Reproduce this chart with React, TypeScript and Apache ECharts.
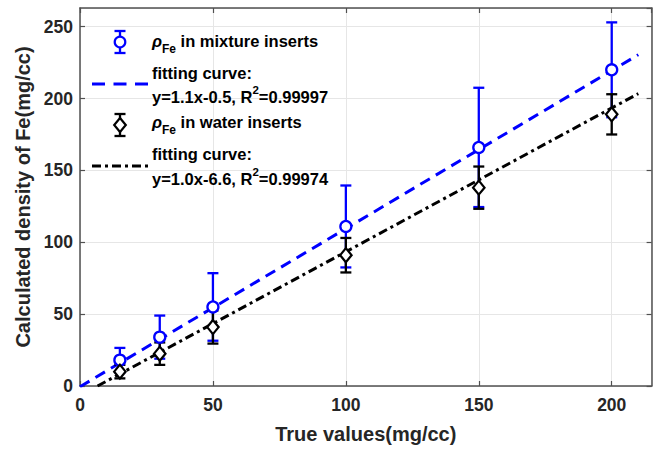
import React, { useEffect, useRef } from 'react';
import * as echarts from 'echarts';

// ---- data ----
const trueValues = [15, 30, 50, 100, 150, 200];
const mixtureDensity = [18, 34, 55, 111, 166, 220];
const mixtureError = [8.5, 15, 23.5, 28.5, 41.5, 33];
const waterDensity = [10, 22.5, 41, 91, 138, 189];
const waterError = [4.7, 7.8, 11.5, 12, 14.7, 14];
const mixtureFitLine = [[0, -0.5], [210, 230.5]];
const waterFitLine = [[6.6, 0], [210, 203.4]];
const xTicks = [0, 50, 100, 150, 200];
const yTicks = [0, 50, 100, 150, 200, 250];

const mixtureLabel = ' in mixture inserts';
const waterLabel = ' in water inserts';
const fitLabel = 'fitting curve:';
const mixtureFitEq = ['y=1.1x-0.5, R', '2', '=0.99997'];
const waterFitEq = ['y=1.0x-6.6, R', '2', '=0.99974'];

const FONT = 'Liberation Sans, Arial, Helvetica, sans-serif';
const BLUE = '#0000ff';
const BLACK = '#000000';
const AXIS = '#505050';
const TXT = '#262626';

function errorBarSeries(values: number[], errors: number[], color: string) {
  return {
    type: 'custom',
    data: trueValues.map((x, i) => [x, values[i], errors[i]]),
    encode: { x: 0, y: 1 },
    clip: false,
    renderItem: (params: any, api: any) => {
      const x = api.value(0);
      const y = api.value(1);
      const e = api.value(2);
      const top = api.coord([x, y + e]);
      const bot = api.coord([x, y - e]);
      const hw = 5.5;
      const style = { stroke: color, lineWidth: 2.3 };
      return {
        type: 'group',
        children: [
          { type: 'line', shape: { x1: top[0], y1: top[1], x2: bot[0], y2: bot[1] }, style },
          { type: 'line', shape: { x1: top[0] - hw, y1: top[1], x2: top[0] + hw, y2: top[1] }, style },
          { type: 'line', shape: { x1: bot[0] - hw, y1: bot[1], x2: bot[0] + hw, y2: bot[1] }, style },
        ],
      };
    },
    z: 3,
  };
}

const richBase = {
  rho: { fontStyle: 'italic', fontWeight: 'bold', fontSize: 16.5, fontFamily: FONT, fill: BLACK },
  sub: { fontWeight: 'bold', fontSize: 12, fontFamily: FONT, fill: BLACK, padding: [15, 0, 0, 0] },
  sup: { fontWeight: 'bold', fontSize: 11.5, fontFamily: FONT, fill: BLACK, padding: [0, 0, 14, 0] },
};

function legendText(text: string, y: number) {
  return {
    type: 'text',
    x: 152,
    y,
    style: {
      text,
      rich: richBase,
      fontSize: 16.5,
      fontWeight: 'bold',
      fontFamily: FONT,
      fill: BLACK,
      verticalAlign: 'middle',
      align: 'left',
    },
    z: 10,
  };
}

function errorIcon(cx: number, cy: number, color: string, marker: 'circle' | 'diamond') {
  const style = { stroke: color, lineWidth: 2.3 };
  const children: any[] = [
    { type: 'line', shape: { x1: cx, y1: cy - 11, x2: cx, y2: cy + 11 }, style },
    { type: 'line', shape: { x1: cx - 5.5, y1: cy - 11, x2: cx + 5.5, y2: cy - 11 }, style },
    { type: 'line', shape: { x1: cx - 5.5, y1: cy + 11, x2: cx + 5.5, y2: cy + 11 }, style },
  ];
  if (marker === 'circle') {
    children.push({ type: 'circle', shape: { cx, cy, r: 5.3 }, style: { fill: '#fff', stroke: color, lineWidth: 2.2 } });
  } else {
    children.push({
      type: 'polygon',
      shape: { points: [[cx, cy - 7], [cx + 5.8, cy], [cx, cy + 7], [cx - 5.8, cy]] },
      style: { fill: '#fff', stroke: color, lineWidth: 2.2 },
    });
  }
  return { type: 'group', children, z: 10 };
}

export default function App() {
  const ref = useRef<HTMLDivElement>(null);

  useEffect(() => {
    document.body.style.margin = '0';
    if (!ref.current) return;
    const chart = echarts.init(ref.current, undefined, { renderer: 'svg' });

    const axisLabelCommon = {
      fontSize: 17.5,
      fontWeight: 'bold',
      fontFamily: FONT,
      color: TXT,
    };

    const option: any = {
      animation: false,
      backgroundColor: '#ffffff',
      grid: { left: 80, right: 3.4, top: 8, bottom: 63, containLabel: false },
      xAxis: [
        {
          type: 'value',
          min: 0,
          max: 215,
          interval: 50,
          position: 'bottom',
          name: 'True values(mg/cc)',
          nameLocation: 'middle',
          nameGap: 38,
          nameTextStyle: { fontSize: 20, fontWeight: 'bold', fontFamily: FONT, color: TXT },
          axisLine: { show: true, onZero: false, lineStyle: { color: AXIS, width: 1.5 } },
          axisTick: { show: true, inside: true, length: 5, lineStyle: { color: AXIS, width: 1.2 } },
          axisLabel: {
            ...axisLabelCommon,
            margin: 10,
            showMaxLabel: false,
            formatter: (v: number) => (xTicks.includes(v) ? String(v) : ''),
          },
          splitLine: { show: true, lineStyle: { color: '#e6e6e6', width: 1 } },
        },
        {
          type: 'value',
          min: 0,
          max: 215,
          interval: 50,
          position: 'top',
          axisLine: { show: true, onZero: false, lineStyle: { color: AXIS, width: 1.5 } },
          axisTick: { show: true, inside: true, length: 5, lineStyle: { color: AXIS, width: 1.2 } },
          axisLabel: { show: false },
          splitLine: { show: false },
        },
      ],
      yAxis: [
        {
          type: 'value',
          min: 0,
          max: 263,
          interval: 50,
          position: 'left',
          name: 'Calculated density of Fe(mg/cc)',
          nameLocation: 'middle',
          nameGap: 44,
          nameRotate: 90,
          nameTextStyle: { fontSize: 20, fontWeight: 'bold', fontFamily: FONT, color: TXT },
          axisLine: { show: true, onZero: false, lineStyle: { color: AXIS, width: 1.5 } },
          axisTick: { show: true, inside: true, length: 5, lineStyle: { color: AXIS, width: 1.2 } },
          axisLabel: {
            ...axisLabelCommon,
            margin: 7,
            showMaxLabel: false,
            formatter: (v: number) => (yTicks.includes(v) ? String(v) : ''),
          },
          splitLine: { show: true, lineStyle: { color: '#e6e6e6', width: 1 } },
        },
        {
          type: 'value',
          min: 0,
          max: 263,
          interval: 50,
          position: 'right',
          axisLine: { show: true, onZero: false, lineStyle: { color: AXIS, width: 1.5 } },
          axisTick: { show: true, inside: true, length: 5, lineStyle: { color: AXIS, width: 1.2 } },
          axisLabel: { show: false },
          splitLine: { show: false },
        },
      ],
      series: [
        {
          type: 'line',
          data: mixtureFitLine,
          showSymbol: false,
          symbol: 'none',
          lineStyle: { color: BLUE, width: 3, type: [11, 7] },
          z: 2,
        },
        {
          type: 'line',
          data: waterFitLine,
          showSymbol: false,
          symbol: 'none',
          lineStyle: { color: BLACK, width: 3, type: [9, 4, 3, 4] },
          z: 2,
        },
        errorBarSeries(mixtureDensity, mixtureError, BLUE),
        errorBarSeries(waterDensity, waterError, BLACK),
        {
          type: 'scatter',
          data: trueValues.map((x, i) => [x, mixtureDensity[i]]),
          symbol: 'circle',
          symbolSize: 11,
          itemStyle: { color: '#ffffff', borderColor: BLUE, borderWidth: 2.3, opacity: 1 },
          z: 4,
        },
        {
          type: 'scatter',
          data: trueValues.map((x, i) => [x, waterDensity[i]]),
          symbol: 'diamond',
          symbolSize: [11.5, 14],
          itemStyle: { color: '#ffffff', borderColor: BLACK, borderWidth: 2.2, opacity: 1 },
          z: 4,
        },
      ],
      graphic: [
        errorIcon(120, 42, BLUE, 'circle'),
        legendText('{rho|ρ}{sub|Fe}' + mixtureLabel, 41),
        {
          type: 'line',
          shape: { x1: 92, y1: 84, x2: 148, y2: 84 },
          style: { stroke: BLUE, lineWidth: 3, lineDash: [13, 8.5] },
          z: 10,
        },
        legendText(fitLabel, 73),
        legendText(mixtureFitEq[0] + '{sup|' + mixtureFitEq[1] + '}' + mixtureFitEq[2], 97),
        errorIcon(120, 125, BLACK, 'diamond'),
        legendText('{rho|ρ}{sub|Fe}' + waterLabel, 122),
        {
          type: 'line',
          shape: { x1: 92, y1: 166, x2: 148, y2: 166 },
          style: { stroke: BLACK, lineWidth: 3, lineDash: [9, 4, 3, 4] },
          z: 10,
        },
        legendText(fitLabel, 154),
        legendText(waterFitEq[0] + '{sup|' + waterFitEq[1] + '}' + waterFitEq[2], 179),
      ],
    };

    chart.setOption(option);
    return () => {
      chart.dispose();
    };
  }, []);

  return <div ref={ref} style={{ width: 655, height: 449 }} />;
}
